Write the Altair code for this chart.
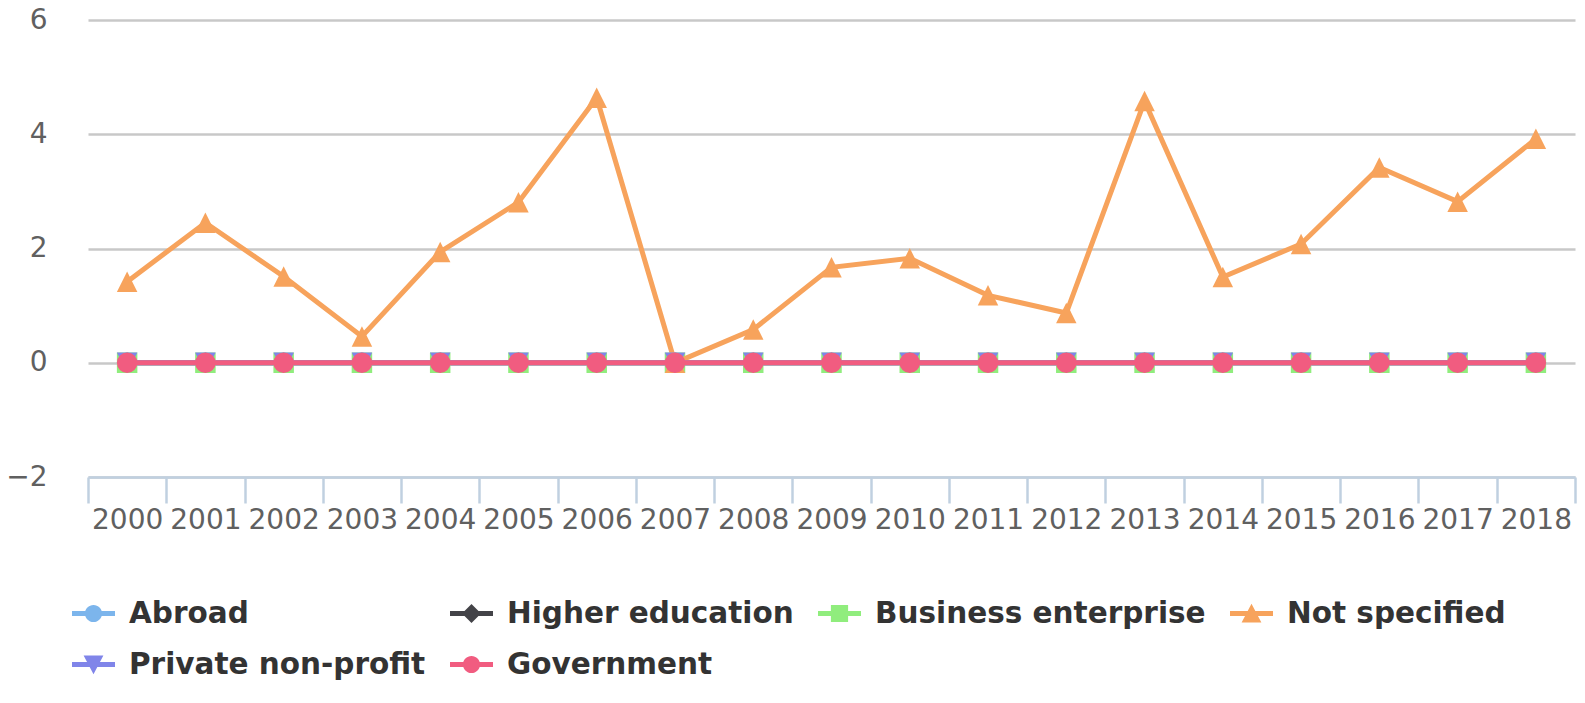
import altair as alt
import pandas as pd

# ---- data ----
years = ["2000", "2001", "2002", "2003", "2004", "2005", "2006", "2007", "2008", "2009",
         "2010", "2011", "2012", "2013", "2014", "2015", "2016", "2017", "2018"]

series_names = ["Abroad", "Higher education", "Business enterprise",
                "Not specified", "Private non-profit", "Government"]

abroad = [0, 0, 0, 0, 0, 0, 0, 0, 0, 0, 0, 0, 0, 0, 0, 0, 0, 0, 0]
higher_education = [0, 0, 0, 0, 0, 0, 0, 0, 0, 0, 0, 0, 0, 0, 0, 0, 0, 0, 0]
business_enterprise = [0, 0, 0, 0, 0, 0, 0, 0, 0, 0, 0, 0, 0, 0, 0, 0, 0, 0, 0]
not_specified = [1.42, 2.45, 1.51, 0.46, 1.94, 2.81, 4.64, 0.0, 0.58, 1.67,
                 1.83, 1.18, 0.87, 4.58, 1.50, 2.08, 3.42, 2.82, 3.92]
private_non_profit = [0, 0, 0, 0, 0, 0, 0, 0, 0, 0, 0, 0, 0, 0, 0, 0, 0, 0, 0]
government = [0, 0, 0, 0, 0, 0, 0, 0, 0, 0, 0, 0, 0, 0, 0, 0, 0, 0, 0]

y_ticks = [-2, 0, 2, 4, 6]

# ---- styles ----
colors = ["#7cb5ec", "#434348", "#90ed7d", "#f7a35c", "#8085e9", "#f15c80"]
point_shapes = ["circle", "diamond", "square",
                "M0,-1L1,1L-1,1Z", "M-1,-1L1,-1L0,1Z", "circle"]
bar = "M-1,-0.12L1,-0.12L1,0.12L-1,0.12Z"
circ = ("M0.4,0C0.4,0.22,0.22,0.4,0,0.4C-0.22,0.4,-0.4,0.22,-0.4,0"
        "C-0.4,-0.22,-0.22,-0.4,0,-0.4C0.22,-0.4,0.4,-0.22,0.4,0Z")
legend_shapes = [
    bar + circ,
    bar + "M0,-0.44L0.44,0L0,0.44L-0.44,0Z",
    bar + "M-0.4,-0.4L0.4,-0.4L0.4,0.4L-0.4,0.4Z",
    bar + "M0,-0.45L0.46,0.42L-0.46,0.42Z",
    bar + "M-0.46,-0.42L0.46,-0.42L0,0.45Z",
    bar + circ,
]

all_values = [abroad, higher_education, business_enterprise,
              not_specified, private_non_profit, government]
rows = []
for name, vals in zip(series_names, all_values):
    for yr, v in zip(years, vals):
        rows.append({"year": yr, "series": name, "value": v})
df = pd.DataFrame(rows)

x_enc = alt.X(
    "year:O",
    sort=years,
    scale=alt.Scale(type="band", domain=years, paddingInner=0, paddingOuter=0),
    bandPosition=0.5,
    axis=alt.Axis(
        title=None, labelAngle=0, tickBand="extent", tickSize=26, tickWidth=2.5,
        tickColor="#C0D0E0", domainColor="#C0D0E0", domainWidth=2.5,
        labelFont="DejaVu Sans", labelFontSize=28, labelColor="#606060",
        labelPadding=3, grid=False, labelOverlap=False,
    ),
)
y_enc = alt.Y(
    "value:Q",
    scale=alt.Scale(domain=[-2, 6], nice=False, zero=False),
    axis=alt.Axis(
        values=y_ticks, title=None, domain=False, ticks=False, grid=True,
        gridColor="#C8C8C8", gridWidth=2.5, labelFont="DejaVu Sans",
        labelFontSize=28, labelColor="#606060", labelPadding=41,
    ),
)

# one line layer + one marker layer per series, drawn in series order
series_layers = []
for name, col, shp in zip(series_names, colors, point_shapes):
    base = alt.Chart(df).transform_filter(alt.datum.series == name)
    series_layers.append(
        base.mark_line(strokeWidth=5, color=col).encode(x=x_enc, y=y_enc)
    )
    series_layers.append(
        base.mark_point(filled=True, size=420, opacity=1, strokeWidth=0,
                        shape=shp, color=col).encode(x=x_enc, y=y_enc)
    )

# legend-only layer: draws no marks, only supplies the legend
legend_layer = (
    alt.Chart(df)
    .transform_filter("false")
    .mark_point(filled=True, opacity=1)
    .encode(
        x=x_enc, y=y_enc,
        color=alt.Color("series:N", scale=alt.Scale(domain=series_names, range=colors),
                        title=None),
        shape=alt.Shape("series:N", scale=alt.Scale(domain=series_names, range=legend_shapes),
                        title=None),
    )
)

chart = (
    alt.layer(*series_layers, legend_layer)
    .properties(
        width=1487, height=457,
        autosize=alt.AutoSizeParams(type="none"),
        padding={"left": 80, "top": 12, "right": 2, "bottom": 226},
        background="white",
    )
    .configure_view(stroke=None)
    .configure_legend(
        orient="none", legendX=-16, legendY=572, direction="horizontal",
        columns=4, gridAlign="each", symbolSize=1849, symbolStrokeWidth=0,
        labelFont="DejaVu Sans", labelFontSize=29.5,
        labelFontWeight="bold", labelColor="#333333", labelOffset=14,
        columnPadding=24, rowPadding=15, padding=0, labelLimit=0,
    )
)

chart.save("out.html", embed_options={"renderer": "svg", "actions": False})
